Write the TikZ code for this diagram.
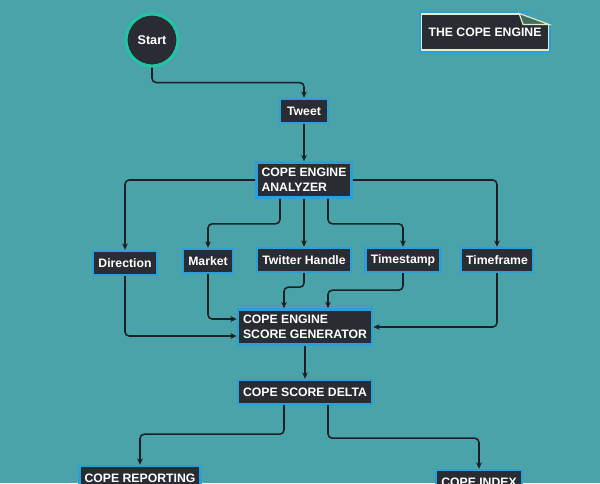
\documentclass[tikz,border=0pt]{standalone}
\usepackage{fontspec}
\setmainfont{Liberation Sans}
\usetikzlibrary{arrows.meta}

\definecolor{bgteal}{HTML}{4AA3A8}
\definecolor{boxfill}{HTML}{2A2C33}
\definecolor{boxblue}{HTML}{2C9FD8}
\definecolor{ringgreen}{HTML}{22C4A2}
\definecolor{cream}{HTML}{E4EEC4}
\definecolor{foldfill}{HTML}{3E6E60}
\definecolor{linkdark}{HTML}{1C2024}

\tikzset{
	box/.style={fill=boxfill, draw=boxblue, line width=1.7pt, text=white,
		font=\fontsize{8.7}{10.4}\selectfont\bfseries,
		inner xsep=3.7pt, inner ysep=3pt, minimum height=0.6cm},
	twoline/.style={box, align=left, minimum height=0.88cm},
	startcirc/.style={circle, fill=boxfill, draw=ringgreen, line width=2.2pt, text=white,
		font=\fontsize{9}{11}\selectfont\bfseries, minimum size=1.3cm},
	notebox/.style={fill=boxfill, draw=cream, line width=0.8pt, text=white,
		font=\fontsize{8.7}{10.4}\selectfont\bfseries,
		minimum width=3.175cm, minimum height=0.9cm,
		preaction={draw=boxblue, line width=4pt}},
	link/.style={draw=linkdark, line width=1.1pt, rounded corners=3pt,
		-{Stealth[length=4.5pt,width=4pt]}}
}

\begin{document}
\begin{tikzpicture}[x=0.025cm, y=-0.025cm]
	\fill[bgteal] (0,0) rectangle (600,483);
	\useasboundingbox (0,0) rectangle (600,483);

	% title note
	\node[notebox] (title) at (485,32) {THE COPE ENGINE};
	\fill[bgteal] ([xshift=-0.75cm]title.north east) -- ([xshift=0.1cm,yshift=0.1cm]title.north east) -- ([yshift=-0.275cm]title.north east) -- cycle;
	\filldraw[fill=foldfill, draw=cream, line width=0.8pt] ([xshift=-0.75cm]title.north east) -- ([xshift=-0.65cm,yshift=-0.275cm]title.north east) -- ([yshift=-0.275cm]title.north east) -- cycle;

	% nodes
	\node[startcirc] (start) at (152,40) {Start};
	\node[box, minimum width=1.2cm] (tweet) at (304,111) {Tweet};
	\node[twoline] (analyzer) at (304,180) {COPE ENGINE\\ANALYZER};

	\node[box] (direction) at (125,263) {Direction};
	\node[box] (market) at (208,261) {Market};
	\node[box] (handle) at (304,260) {Twitter Handle};
	\node[box] (stamp) at (403,260) {Timestamp};
	\node[box] (timeframe) at (497,260) {Timeframe};

	\node[twoline] (generator) at (305,327) {COPE ENGINE\\SCORE GENERATOR};
	\node[box] (delta) at (305,392) {COPE SCORE DELTA};

	\node[box] (reporting) at (140,478) {COPE REPORTING};
	\node[box] (index) at (479,482) {COPE INDEX};

	% connectors
	\draw[link] (start.south) -- ++(0,15) -| (tweet.north);
	\draw[link] (tweet.south) -- (analyzer.north);

	\draw[link] (analyzer.west) -| (direction.north);
	\draw[link] (analyzer.east) -| (timeframe.north);
	\draw[link] ([xshift=-0.6cm]analyzer.south) -- ++(0,25) -| (market.north);
	\draw[link] (analyzer.south) -- (handle.north);
	\draw[link] ([xshift=0.6cm]analyzer.south) -- ++(0,25) -| (stamp.north);

	\draw[link] (direction.south) |- ([yshift=-0.225cm]generator.west);
	\draw[link] (market.south) |- ([yshift=0.2cm]generator.west);
	\draw[link] (handle.south) -- ++(0,14) -| ([xshift=-0.525cm]generator.north);
	\draw[link] (stamp.south) -- ++(0,17) -| ([xshift=0.575cm]generator.north);
	\draw[link] (timeframe.south) |- (generator.east);

	\draw[link] (generator.south) -- (delta.north);
	\draw[link] ([xshift=-0.525cm]delta.south) -- ++(0,29) -| (reporting.north);
	\draw[link] ([xshift=0.575cm]delta.south) -- ++(0,33) -| (index.north);
\end{tikzpicture}
\end{document}
